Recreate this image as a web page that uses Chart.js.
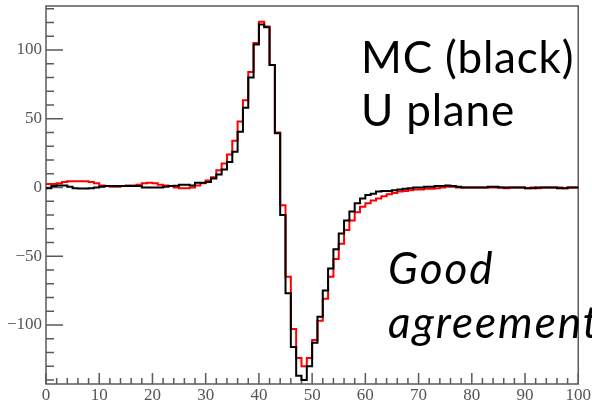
<!DOCTYPE html>
<html lang="en">
<head>
  <meta charset="UTF-8">
  <title>MC vs data, U plane</title>
  <script src="https://cdn.jsdelivr.net/npm/chart.js"></script>
  <style>
    body { margin: 0; background: #fff; }
    #pulseChart { display: block; }
  </style>
</head>
<body>
  <canvas id="pulseChart" width="592" height="406"></canvas>

  <script>
    // bin low edges 0..99, one value per bin
    const mcBlack = [
      -0.5, 1, 1.5, 1.5, 0.5, -0.5, -0.8, -0.8, -0.5, 0,
      0.5, 1, 1, 1, 1, 1, 1, 1, 0, 0,
      0, 0, 0.5, 1, 1.2, 2, 2, 1.5, 3.5, 3.5,
      4, 6.5, 9.5, 13, 18.5, 26, 40.5, 58, 80, 104,
      118.5, 116.5, 89, 39.5, -20, -77, -116, -137, -140, -130,
      -113, -94, -75, -59, -45, -33.5, -24, -17.5, -11.5, -8,
      -5.5, -4.5, -3, -2.5, -2.5, -2, -1.5, -1, -0.5, 0,
      0, 0.5, 0.5, 1, 1, 1.5, 1, 0.5, 0, 0,
      0, 0, 0, 0.5, 0.5, 0, 0, 0, 0, 0,
      -0.5, -0.5, 0, 0, 0, 0, -0.5, -0.5, 0, 0
    ];
    const dataRed = [
      2.5, 2.5, 3, 4, 4.5, 4.5, 4.5, 4.5, 4, 3,
      1.5, 1, 0.5, 0.5, 1, 1.5, 1.5, 2, 3, 3.5,
      3, 2, 1.5, 1, 0, -0.5, -0.5, 0, 1.5, 3,
      5, 7.5, 12.5, 17.5, 24, 34, 48, 63.5, 84, 105,
      120.5, 117, 89, 40, -13, -65, -103, -124, -130, -124,
      -111, -97, -81, -65, -52, -41, -31, -24, -18, -14,
      -11.5, -9.5, -8, -6.5, -5, -4, -3, -2.5, -2, -1.5,
      -1.5, -1, -1, -0.5, 0, 0.5, 0.5, 0, 0, 0,
      0, 0, 0, 0, 0, 0, -0.5, 0, 0, 0,
      -0.5, 0, -0.5, 0, 0, 0, 0, -0.5, 0, 0
    ];
    const xTicks = [0, 10, 20, 30, 40, 50, 60, 70, 80, 90, 100];
    const yTicks = [-100, -50, 0, 50, 100];

    // histogram outline: a point at every low edge, plus the last upper edge
    function toSteps(vals) {
      const pts = vals.map((v, i) => ({ x: i, y: v }));
      pts.push({ x: vals.length, y: vals[vals.length - 1] });
      return pts;
    }

    // ROOT style frame with ticks pointing inwards
    const frameTicks = {
      id: 'frameTicks',
      beforeDatasetsDraw(chart) {
        const { ctx, chartArea: a, scales: { x, y } } = chart;
        ctx.save();
        ctx.strokeStyle = '#5a5a5a';
        ctx.lineWidth = 1.5;
        ctx.strokeRect(a.left, a.top, a.right - a.left, a.bottom - a.top);
        ctx.beginPath();
        for (let v = 0; v <= 100; v += 2) {
          const px = x.getPixelForValue(v);
          const len = v % 10 === 0 ? 11 : 6;
          ctx.moveTo(px, a.bottom);
          ctx.lineTo(px, a.bottom - len);
        }
        for (let v = -140; v <= 130; v += 10) {
          const py = y.getPixelForValue(v);
          const len = v % 50 === 0 ? 17 : 8;
          ctx.moveTo(a.left, py);
          ctx.lineTo(a.left + len, py);
        }
        ctx.stroke();
        ctx.restore();
      }
    };

    // slide text on top of the plot
    const notes = {
      id: 'notes',
      afterDraw(chart) {
        const ctx = chart.ctx;
        ctx.save();
        ctx.fillStyle = '#000';
        ctx.textBaseline = 'alphabetic';
        ctx.font = '44px Lato';
        ctx.letterSpacing = '0.8px';
        ctx.fillText('MC (black)', 361, 73);
        ctx.fillText('U plane', 361, 126);
        ctx.font = 'italic 44px Lato';
        ctx.letterSpacing = '2px';
        ctx.fillText('Good', 388, 284);
        ctx.fillText('agreement', 388, 338);
        ctx.restore();
      }
    };

    const ctx = document.getElementById('pulseChart').getContext('2d');
    const chart = new Chart(ctx, {
      type: 'line',
      data: {
        datasets: [
          {
            label: 'MC',
            data: toSteps(mcBlack),
            borderColor: '#000',
            borderWidth: 2,
            stepped: true,
            pointRadius: 0,
            order: 0
          },
          {
            label: 'Data',
            data: toSteps(dataRed),
            borderColor: '#ff0000',
            borderWidth: 2,
            stepped: true,
            pointRadius: 0,
            order: 1
          }
        ]
      },
      options: {
        responsive: false,
        animation: false,
        devicePixelRatio: 1,
        layout: { padding: { top: 6, right: 3, left: 0, bottom: 0 } },
        plugins: { legend: { display: false }, tooltip: { enabled: false } },
        scales: {
          x: {
            type: 'linear',
            min: 0,
            max: 100,
            grid: { display: false, drawTicks: false },
            border: { display: false },
            afterBuildTicks: (s) => { s.ticks = xTicks.map(v => ({ value: v })); },
            afterFit: (s) => { s.height = 22; s.paddingLeft = 0; },
            ticks: {
              padding: 1,
              maxRotation: 0,
              color: '#555',
              font: { family: 'Liberation Serif', size: 17 }
            }
          },
          y: {
            min: -143,
            max: 132,
            grid: { display: false, drawTicks: false },
            border: { display: false },
            afterBuildTicks: (s) => { s.ticks = yTicks.map(v => ({ value: v })); },
            afterFit: (s) => { s.width = 46; s.paddingTop = 0; s.paddingBottom = 0; },
            ticks: {
              padding: 4,
              color: '#555',
              font: { family: 'Liberation Serif', size: 17 },
              callback: (v) => String(v).replace('-', '\u2212')
            }
          }
        }
      },
      plugins: [frameTicks, notes]
    });
  </script>
</body>
</html>
